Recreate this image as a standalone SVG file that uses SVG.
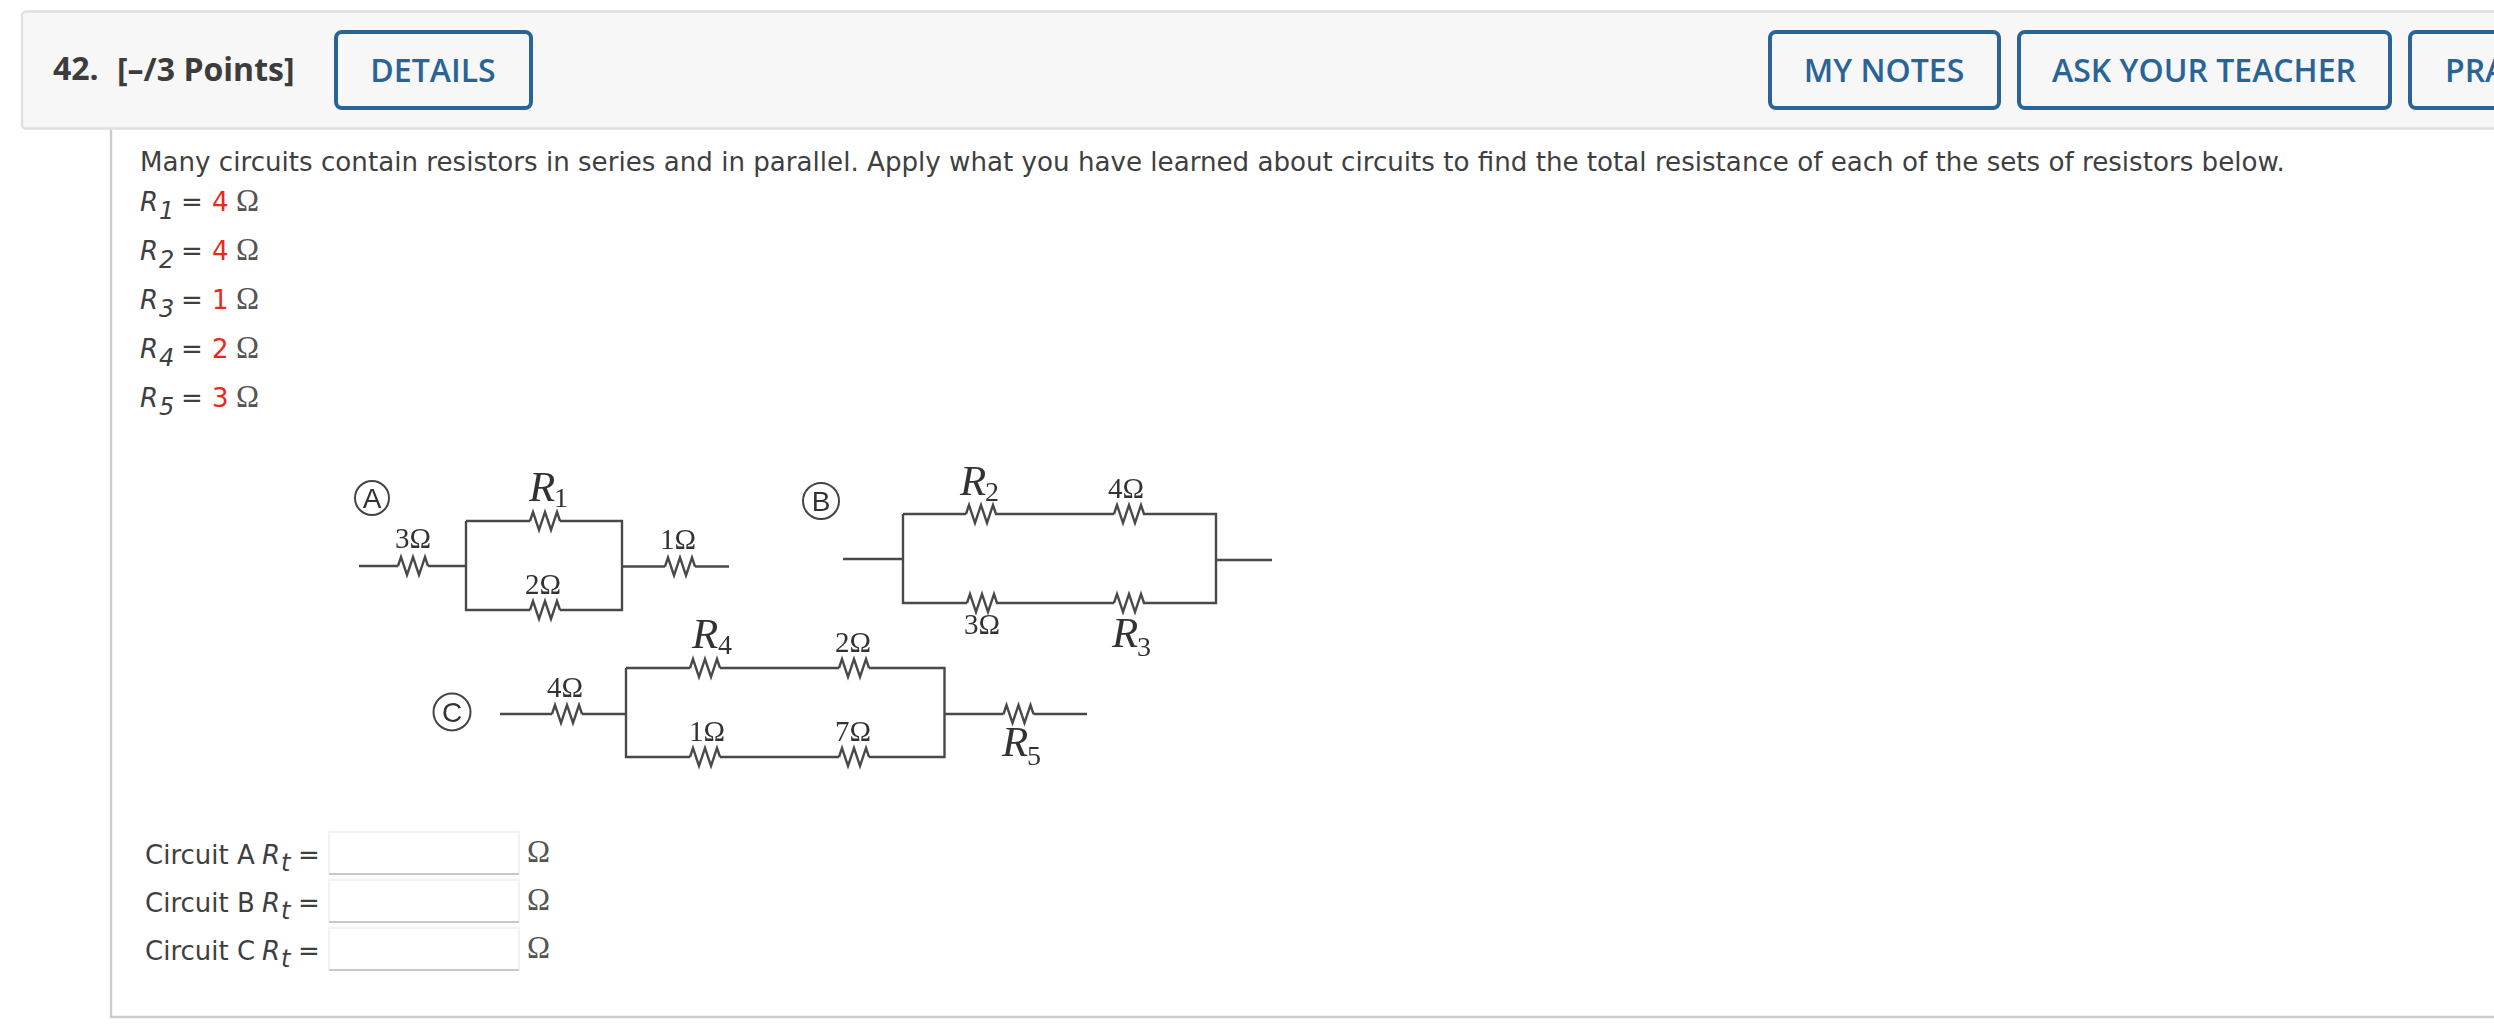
<svg xmlns="http://www.w3.org/2000/svg" xmlns:xlink="http://www.w3.org/1999/xlink" width="2494" height="1030" viewBox="0 0 2494 1030">
<style>
.btn{fill:#f7f7f7;stroke:#2a6496;stroke-width:4}
.btxt{font:600 32px "Open Sans",sans-serif;fill:#2a6496;text-anchor:middle}
.hd{font:700 32px "Open Sans",sans-serif;fill:#3c3c3c}
.t{font:26px "DejaVu Sans",sans-serif;fill:#3f3f3f}
.p{font:26.14px "DejaVu Sans",sans-serif;fill:#3f3f3f}
.i{font-style:italic}
.sub{font:italic 24px "DejaVu Sans",sans-serif;fill:#3f3f3f}
.red{fill:#e8291c}
.om{font:31px "Liberation Serif",serif;fill:#555}
.box{fill:#fff;stroke:#eee;stroke-width:1.5}
.boxb{stroke:#c8c8c8;stroke-width:2}
.w{fill:none;stroke:#4a4a4a;stroke-width:2.4}
.v{font:29px "Liberation Serif",serif;fill:#333;text-anchor:middle}
.r{font:italic 43px "Liberation Serif",serif;fill:#333}
.rs{font:28px "Liberation Serif",serif;fill:#333}
.c{fill:none;stroke:#444;stroke-width:2}
.cl{font:28px "Liberation Sans",sans-serif;fill:#333;text-anchor:middle}
</style>
<defs>
<path id="res" class="w" d="M0 0L3-9L9 9L15-9L21 9L27-9L30 0"/>
<filter id="soft" x="-2%" y="-2%" width="104%" height="104%"><feGaussianBlur stdDeviation="0.55"/></filter>
</defs>
<rect width="2494" height="1030" fill="#fff"/>
<g id="panel">
<path d="M111 129V1017H2494" fill="none" stroke="#ccc" stroke-width="2.4"/>
</g>
<g id="header">
<rect x="22" y="11.500" width="2500" height="117" rx="4" fill="#f7f7f7" stroke="#e0e0e0" stroke-width="2.400"/>
<text class="hd" x="53" y="80">42.</text>
<text class="hd" x="117" y="81">[–/3 Points]</text>
</g>
<g id="btn-details"><rect class="btn" x="336" y="32" width="195" height="76" rx="6"/><text class="btxt" x="433" y="82">DETAILS</text></g>
<g id="btn-notes"><rect class="btn" x="1770" y="32" width="229" height="76" rx="6"/><text class="btxt" x="1884" y="82">MY NOTES</text></g>
<g id="btn-ask"><rect class="btn" x="2019" y="32" width="371" height="76" rx="6"/><text class="btxt" x="2204" y="82">ASK YOUR TEACHER</text></g>
<g id="btn-practice"><rect class="btn" x="2410" y="32" width="200" height="76" rx="6"/><text class="btxt" x="2445" y="82" style="text-anchor:start">PRA</text></g>
<g id="prompt"><text class="p" x="140" y="171">Many circuits contain resistors in series and in parallel. Apply what you have learned about circuits to find the total resistance of each of the sets of resistors below.</text></g>
<g id="values">
<g id="v1"><text class="t i" x="140" y="211">R</text><text class="sub" x="159" y="219">1</text><text class="t" x="181" y="211">=</text><text class="t red" x="212" y="211">4</text><text class="om" x="236" y="211">Ω</text></g>
<g id="v2"><text class="t i" x="140" y="260">R</text><text class="sub" x="159" y="268">2</text><text class="t" x="181" y="260">=</text><text class="t red" x="212" y="260">4</text><text class="om" x="236" y="260">Ω</text></g>
<g id="v3"><text class="t i" x="140" y="309">R</text><text class="sub" x="159" y="317">3</text><text class="t" x="181" y="309">=</text><text class="t red" x="212" y="309">1</text><text class="om" x="236" y="309">Ω</text></g>
<g id="v4"><text class="t i" x="140" y="358">R</text><text class="sub" x="159" y="366">4</text><text class="t" x="181" y="358">=</text><text class="t red" x="212" y="358">2</text><text class="om" x="236" y="358">Ω</text></g>
<g id="v5"><text class="t i" x="140" y="407">R</text><text class="sub" x="159" y="415">5</text><text class="t" x="181" y="407">=</text><text class="t red" x="212" y="407">3</text><text class="om" x="236" y="407">Ω</text></g>
</g>
<g filter="url(#soft)">
<g id="connectors">
<path class="w" d="M359 566H398M428 566H466M466 521H530M560 521H622V610H560M530 610H466V521M622 566.500H665M695 566.500H729"/>
<path class="w" d="M843 559H903M903 514H966M995 514H1114M1143 514H1216V603H1143M1114 603H996M967 603H903V514M1216 560H1272"/>
<path class="w" d="M500 714H552M582 714H626M626 668H690M720 668H839M869 668H944.500V757H869M839 757H720M690 757H626V668M944.500 714H1003.500M1033.500 714H1087"/>
</g>
<g id="label-a"><circle class="c" cx="372" cy="498" r="17"/><text class="cl" x="372" y="508">A</text></g>
<g id="label-b"><circle class="c" cx="821" cy="501" r="18"/><text class="cl" x="821" y="511">B</text></g>
<g id="label-c"><circle class="c" cx="452" cy="712" r="18.500"/><text class="cl" x="452" y="722">C</text></g>
<g id="a-3"><use xlink:href="#res" href="#res" x="398" y="566"/><text class="v" x="413" y="548">3Ω</text></g>
<g id="a-r1"><use xlink:href="#res" href="#res" x="530" y="521"/><text class="r" x="529" y="501">R</text><text class="rs" x="554" y="507">1</text></g>
<g id="a-2"><use xlink:href="#res" href="#res" x="530" y="610"/><text class="v" x="543" y="594">2Ω</text></g>
<g id="a-1"><use xlink:href="#res" href="#res" x="665" y="566.500"/><text class="v" x="678" y="549">1Ω</text></g>
<g id="b-r2"><use xlink:href="#res" href="#res" x="966" y="514"/><text class="r" x="960" y="495">R</text><text class="rs" x="985" y="501">2</text></g>
<g id="b-4"><use xlink:href="#res" href="#res" x="1114" y="514"/><text class="v" x="1126" y="498">4Ω</text></g>
<g id="b-3"><use xlink:href="#res" href="#res" x="967" y="603"/><text class="v" x="982" y="634">3Ω</text></g>
<g id="b-r3"><use xlink:href="#res" href="#res" x="1114" y="603"/><text class="r" x="1112" y="647">R</text><text class="rs" x="1137" y="656">3</text></g>
<g id="c-4"><use xlink:href="#res" href="#res" x="552" y="714"/><text class="v" x="565" y="697">4Ω</text></g>
<g id="c-r4"><use xlink:href="#res" href="#res" x="690" y="668"/><text class="r" x="692" y="648">R</text><text class="rs" x="718" y="654">4</text></g>
<g id="c-2"><use xlink:href="#res" href="#res" x="839" y="668"/><text class="v" x="853" y="652">2Ω</text></g>
<g id="c-1"><use xlink:href="#res" href="#res" x="690" y="757"/><text class="v" x="707" y="741">1Ω</text></g>
<g id="c-7"><use xlink:href="#res" href="#res" x="839" y="757"/><text class="v" x="853" y="741">7Ω</text></g>
<g id="c-r5"><use xlink:href="#res" href="#res" x="1003.500" y="714"/><text class="r" x="1002" y="756">R</text><text class="rs" x="1027" y="765">5</text></g>
</g>
<g id="answer-a"><text class="t" x="145" y="864">Circuit A</text><text class="t i" x="262" y="864">R</text><text class="sub" x="281" y="871">t</text><text class="t" x="298" y="864">=</text><rect class="box" x="329" y="832" width="190" height="42"/><path class="boxb" d="M329 874H519"/><text class="om" x="527" y="862">Ω</text></g>
<g id="answer-b"><text class="t" x="145" y="912">Circuit B</text><text class="t i" x="262" y="912">R</text><text class="sub" x="281" y="919">t</text><text class="t" x="298" y="912">=</text><rect class="box" x="329" y="880" width="190" height="42"/><path class="boxb" d="M329 922H519"/><text class="om" x="527" y="910">Ω</text></g>
<g id="answer-c"><text class="t" x="145" y="960">Circuit C</text><text class="t i" x="262" y="960">R</text><text class="sub" x="281" y="967">t</text><text class="t" x="298" y="960">=</text><rect class="box" x="329" y="928" width="190" height="42"/><path class="boxb" d="M329 970H519"/><text class="om" x="527" y="958">Ω</text></g>
</svg>
